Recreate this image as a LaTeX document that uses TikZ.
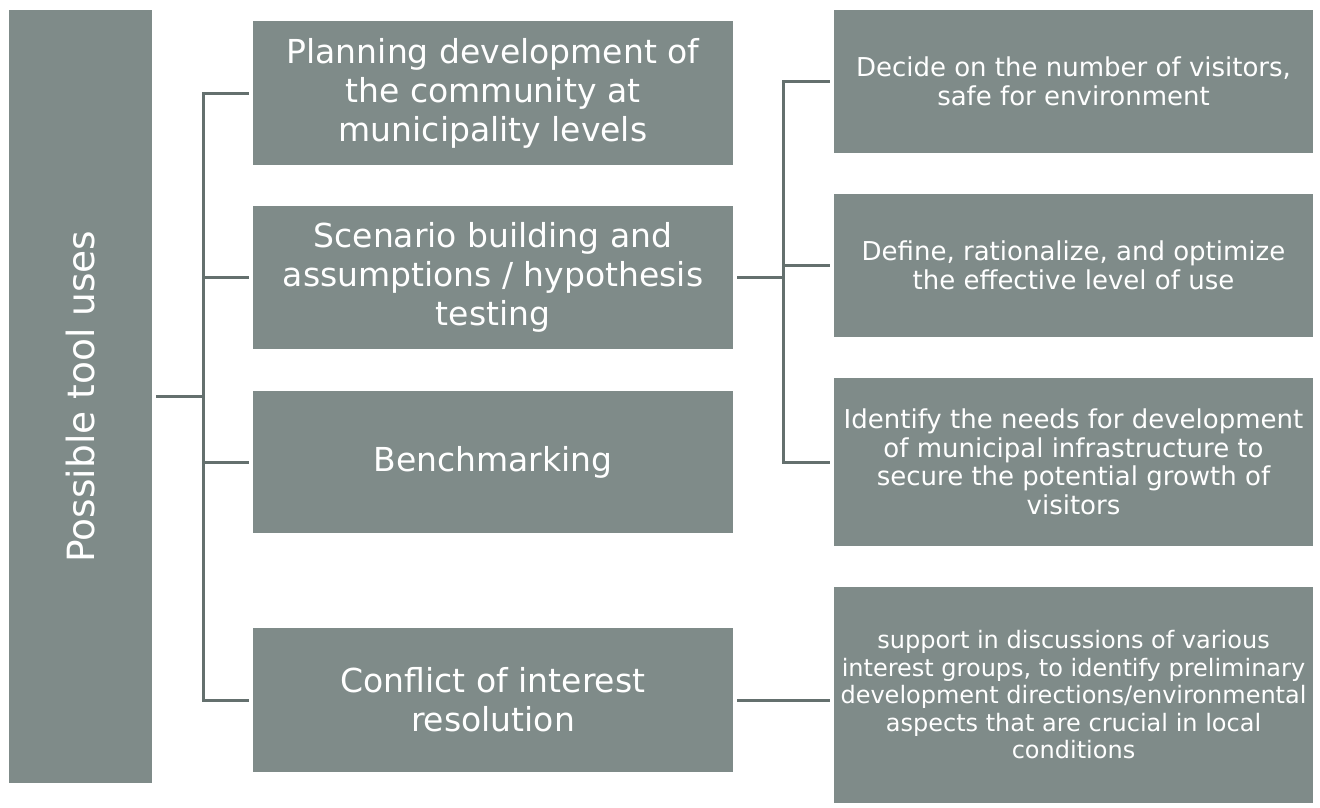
\documentclass[tikz,border=0pt]{standalone}
\usepackage{fontspec}
\setmainfont{DejaVu Sans}
\definecolor{boxgray}{RGB}{127,139,137}
\definecolor{linegray}{RGB}{100,112,110}
\begin{document}
\begin{tikzpicture}[x=1pt,y=-1pt,
  box/.style={fill=boxgray,draw=none,inner sep=0pt,text=white,align=center},
  midbox/.style={box,minimum width=480pt,font=\fontsize{33}{39}\selectfont},
  rightbox/.style={box,minimum width=479pt,font=\fontsize{26}{28.5}\selectfont},
  conn/.style={draw=linegray,line width=3pt}]
\useasboundingbox (0,0) rectangle (1320,807);
% left
\node[box,minimum width=143pt,minimum height=773pt] (L) at (80.5,396.5) {};
\node[text=white,rotate=90,font=\fontsize{37.5}{42}\selectfont] (Lt) at (L.center) {Possible tool uses};
% middle
\node[midbox,minimum height=144pt] (P) at (493,93) {Planning development of\\the community at\\municipality levels};
\node[midbox,minimum height=143pt] (S) at (493,277.5) {Scenario building and\\assumptions / hypothesis\\testing};
\node[midbox,minimum height=142pt] (B) at (493,462) {Benchmarking};
\node[midbox,minimum height=144pt] (C) at (493,700) {Conflict of interest\\resolution};
% right
\node[rightbox,minimum height=143pt] (R1) at (1073.5,81.5) {Decide on the number of visitors,\\safe for environment};
\node[rightbox,minimum height=143pt] (R2) at (1073.5,265.5) {Define, rationalize, and optimize\\the effective level of use};
\node[rightbox,minimum height=168pt] (R3) at (1073.5,462) {Identify the needs for development\\of municipal infrastructure to\\secure the potential growth of\\visitors};
\node[rightbox,minimum height=216pt,font=\fontsize{24}{27.5}\selectfont] (R4) at (1073.5,695) {support in discussions of various\\interest groups, to identify preliminary\\development directions/environmental\\aspects that are crucial in local\\conditions};
% trunk coordinates
\coordinate (T1) at (203,93);
\coordinate (T2) at (203,700);
\coordinate (U1) at (783,81.5);
\coordinate (U2) at (783,462);
% connectors
\draw[conn,shorten <=4pt] (L.east) -- (L.east -| T1);
\draw[conn,line join=miter] ([xshift=-4pt]P.west) -- (T1) -- (T2) -- ([xshift=-4pt]C.west);
\draw[conn,shorten >=4pt] (S.west -| T1) -- (S.west);
\draw[conn,shorten >=4pt] (B.west -| T1) -- (B.west);
\draw[conn,shorten <=4pt] (S.east) -- (S.east -| U1);
\draw[conn,line join=miter] ([xshift=-4pt]R1.west) -- (U1) -- (U2) -- ([xshift=-4pt]R3.west |- U2);
\draw[conn,shorten >=4pt] (R2.west -| U1) -- (R2.west);
\draw[conn,shorten <=4pt,shorten >=4pt] (C.east) -- (C.east -| R4.west);
\end{tikzpicture}
\end{document}
